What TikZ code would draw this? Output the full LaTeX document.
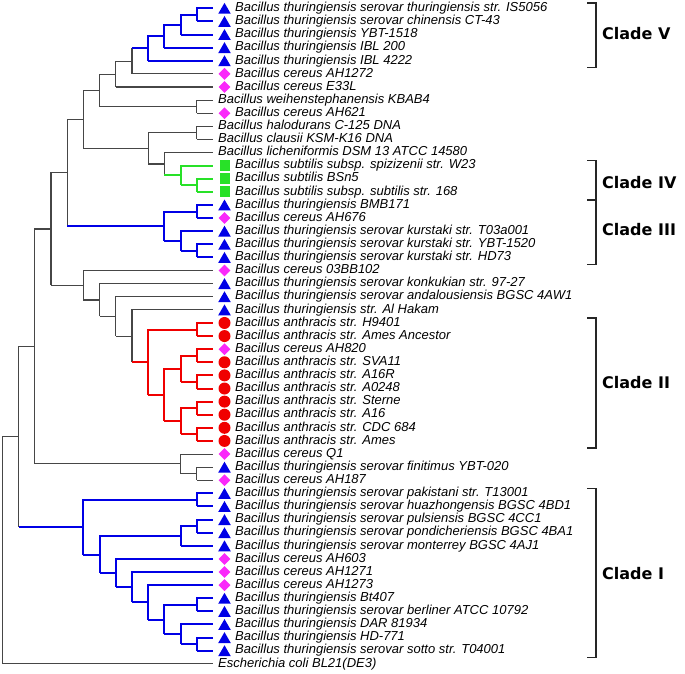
\documentclass[tikz,border=0pt]{standalone}
\usepackage{fontspec}
\newfontfamily\leaffont{Liberation Sans}
\newfontfamily\cladefont{DejaVu Sans}
\usetikzlibrary{positioning, calc, shapes.geometric}
\definecolor{treegray}{RGB}{70,70,70}
\definecolor{btblue}{RGB}{0,0,230}
\definecolor{bcpink}{RGB}{250,40,250}
\definecolor{bsgreen}{RGB}{40,225,40}
\definecolor{bared}{RGB}{240,0,0}

% one split: name, level, first child (its style also draws the spine),
% second child, style of first branch, style of second branch
\newcommand{\tbranch}[6]{%
  \path ($(#3)!.5!(#4)$) coordinate (#1-c);
  \coordinate (#1) at (#2,0 |- #1-c);
  \draw[#5] (#3) -| (#1) -- (#1 |- #4);
  \draw[#6] (#1 |- #4) -- (#4);}

\begin{document}
\begin{tikzpicture}[
   x=-16.2pt, y=-13.11pt, shift={(213pt,4.8pt)},
   brgray/.style={draw=treegray, line width=1.1pt},
   brblue/.style={draw=btblue, line width=2pt},
   brgreen/.style={draw=bsgreen, line width=2pt},
   brred/.style={draw=bared, line width=2pt},
   thur/.style={regular polygon, regular polygon sides=3, fill=btblue,
                inner sep=0pt, minimum size=14.5pt, yshift=-1.8pt},
   cer/.style={diamond, fill=bcpink, inner sep=0pt, minimum size=12pt},
   subt/.style={rectangle, fill=bsgreen, inner sep=0pt,
                minimum width=10pt, minimum height=11pt},
   anth/.style={circle, fill=bared, inner sep=0pt, minimum size=12pt},
   leaf/.style={font=\leaffont\itshape\fontsize{13}{14}\selectfont,
                inner sep=0pt, text height=9pt, text depth=2.5pt},
   clab/.style={font=\cladefont\bfseries\fontsize{16}{18}\selectfont, inner sep=0pt},
   brk/.style={draw=black!85, line width=1.3pt}]

  \useasboundingbox (13.148,0.366) rectangle (-29.136,51.777);

  % tips
  \foreach \i in {1,...,51} \coordinate (l\i) at (0,\i);

  % clade V and its neighbours
  \tbranch{a1}{1}{l1}{l2}{brblue}{brblue}
  \tbranch{a2}{2}{a1}{l3}{brblue}{brblue}
  \tbranch{a3}{3}{a2}{l4}{brblue}{brblue}
  \tbranch{a4}{4}{a3}{l5}{brblue}{brblue}
  \tbranch{a5}{5}{l6}{a4}{brgray}{brblue}
  \tbranch{a6}{6}{a5}{l7}{brgray}{brgray}
  \tbranch{a7}{1}{l8}{l9}{brgray}{brgray}
  \tbranch{a8}{7}{a6}{a7}{brgray}{brgray}
  \tbranch{b1}{1}{l10}{l11}{brgray}{brgray}
  % clade IV
  \tbranch{g1}{1}{l14}{l15}{brgreen}{brgreen}
  \tbranch{g2}{2}{l13}{g1}{brgreen}{brgreen}
  \tbranch{b2}{3}{l12}{g2}{brgray}{brgreen}
  \tbranch{b3}{4}{b1}{b2}{brgray}{brgray}
  \tbranch{a9}{8}{a8}{b3}{brgray}{brgray}
  % clade III
  \tbranch{c1}{1}{l16}{l17}{brblue}{brblue}
  \tbranch{c2}{1}{l19}{l20}{brblue}{brblue}
  \tbranch{c3}{2}{l18}{c2}{brblue}{brblue}
  \tbranch{c4}{3}{c1}{c3}{brblue}{brblue}
  \tbranch{z1}{9}{a9}{c4}{brgray}{brblue}
  % clade II
  \tbranch{r1}{1}{l25}{l26}{brred}{brred}
  \tbranch{r2}{1}{l27}{l28}{brred}{brred}
  \tbranch{r3}{1}{l29}{l30}{brred}{brred}
  \tbranch{r4}{2}{r2}{r3}{brred}{brred}
  \tbranch{r5}{1}{l31}{l32}{brred}{brred}
  \tbranch{r6}{1}{l33}{l34}{brred}{brred}
  \tbranch{r7}{2}{r5}{r6}{brred}{brred}
  \tbranch{r8}{3}{r4}{r7}{brred}{brred}
  \tbranch{r9}{4}{r1}{r8}{brred}{brred}
  \tbranch{s1}{5}{l24}{r9}{brgray}{brred}
  \tbranch{s2}{6}{l23}{s1}{brgray}{brgray}
  \tbranch{s3}{7}{l22}{s2}{brgray}{brgray}
  \tbranch{s4}{8}{l21}{s3}{brgray}{brgray}
  \tbranch{x1}{10}{z1}{s4}{brgray}{brgray}
  \tbranch{q1}{1}{l36}{l37}{brgray}{brgray}
  \tbranch{q2}{2}{l35}{q1}{brgray}{brgray}
  \tbranch{y1}{11}{x1}{q2}{brgray}{brgray}
  % clade I
  \tbranch{i1}{1}{l38}{l39}{brblue}{brblue}
  \tbranch{i2}{1}{l40}{l41}{brblue}{brblue}
  \tbranch{i3}{2}{i2}{l42}{brblue}{brblue}
  \tbranch{i4}{1}{l46}{l47}{brblue}{brblue}
  \tbranch{i5}{1}{l49}{l50}{brblue}{brblue}
  \tbranch{i6}{2}{l48}{i5}{brblue}{brblue}
  \tbranch{i7}{3}{i4}{i6}{brblue}{brblue}
  \tbranch{i8}{4}{l45}{i7}{brblue}{brblue}
  \tbranch{i9}{5}{l44}{i8}{brblue}{brblue}
  \tbranch{i10}{6}{l43}{i9}{brblue}{brblue}
  \tbranch{i11}{7}{i3}{i10}{brblue}{brblue}
  \tbranch{i12}{8}{i1}{i11}{brblue}{brblue}
  \tbranch{w1}{12}{y1}{i12}{brgray}{brblue}
  \tbranch{root}{13}{w1}{l51}{brgray}{brgray}

  % marked tips
  \foreach \i/\mk/\txt in {
     1/thur/{Bacillus thuringiensis serovar thuringiensis str. IS5056},
     2/thur/{Bacillus thuringiensis serovar chinensis CT-43},
     3/thur/{Bacillus thuringiensis YBT-1518},
     4/thur/{Bacillus thuringiensis IBL 200},
     5/thur/{Bacillus thuringiensis IBL 4222},
     6/cer/{Bacillus cereus AH1272},
     7/cer/{Bacillus cereus E33L},
     9/cer/{Bacillus cereus AH621},
     13/subt/{Bacillus subtilis subsp. spizizenii str. W23},
     14/subt/{Bacillus subtilis BSn5},
     15/subt/{Bacillus subtilis subsp. subtilis str. 168},
     16/thur/{Bacillus thuringiensis BMB171},
     17/cer/{Bacillus cereus AH676},
     18/thur/{Bacillus thuringiensis serovar kurstaki str. T03a001},
     19/thur/{Bacillus thuringiensis serovar kurstaki str. YBT-1520},
     20/thur/{Bacillus thuringiensis serovar kurstaki str. HD73},
     21/cer/{Bacillus cereus 03BB102},
     22/thur/{Bacillus thuringiensis serovar konkukian str. 97-27},
     23/thur/{Bacillus thuringiensis serovar andalousiensis BGSC 4AW1},
     24/thur/{Bacillus thuringiensis str. Al Hakam},
     25/anth/{Bacillus anthracis str. H9401},
     26/anth/{Bacillus anthracis str. Ames Ancestor},
     27/cer/{Bacillus cereus AH820},
     28/anth/{Bacillus anthracis str. SVA11},
     29/anth/{Bacillus anthracis str. A16R},
     30/anth/{Bacillus anthracis str. A0248},
     31/anth/{Bacillus anthracis str. Sterne},
     32/anth/{Bacillus anthracis str. A16},
     33/anth/{Bacillus anthracis str. CDC 684},
     34/anth/{Bacillus anthracis str. Ames},
     35/cer/{Bacillus cereus Q1},
     36/thur/{Bacillus thuringiensis serovar finitimus YBT-020},
     37/cer/{Bacillus cereus AH187},
     38/thur/{Bacillus thuringiensis serovar pakistani str. T13001},
     39/thur/{Bacillus thuringiensis serovar huazhongensis BGSC 4BD1},
     40/thur/{Bacillus thuringiensis serovar pulsiensis BGSC 4CC1},
     41/thur/{Bacillus thuringiensis serovar pondicheriensis BGSC 4BA1},
     42/thur/{Bacillus thuringiensis serovar monterrey BGSC 4AJ1},
     43/cer/{Bacillus cereus AH603},
     44/cer/{Bacillus cereus AH1271},
     45/cer/{Bacillus cereus AH1273},
     46/thur/{Bacillus thuringiensis Bt407},
     47/thur/{Bacillus thuringiensis serovar berliner ATCC 10792},
     48/thur/{Bacillus thuringiensis DAR 81934},
     49/thur/{Bacillus thuringiensis HD-771},
     50/thur/{Bacillus thuringiensis serovar sotto str. T04001}}
  {
    \node[\mk] (m\i) at ([xshift=11.5pt]l\i) {};
    \node[leaf, right=22pt of l\i] (t\i) {\txt};
  }

  % unmarked tips
  \foreach \i/\txt in {
     8/{Bacillus weihenstephanensis KBAB4},
     10/{Bacillus halodurans C-125 DNA},
     11/{Bacillus clausii KSM-K16 DNA},
     12/{Bacillus licheniformis DSM 13 ATCC 14580},
     51/{Escherichia coli BL21(DE3)}}
    \node[leaf, right=5pt of l\i] (t\i) {\txt};

  % clade brackets
  \coordinate (v-t) at ([xshift=374pt, yshift=5.3pt]l1);
  \coordinate (v-b) at ([xshift=383pt, yshift=-7pt]l5);
  \draw[brk] (v-t) -| (v-b) -- ++(-9pt,0);
  \coordinate (v-m) at ($(v-b |- v-t)!.5!(v-b)$);
  \node[clab, right=6pt of v-m, yshift=2pt] (cV) {Clade V};

  \coordinate (iv-t) at ([xshift=374pt, yshift=5.3pt]l13);
  \coordinate (iv-b) at ([xshift=383pt, yshift=-8pt]l15);
  \draw[brk] (iv-t) -| (iv-b) -- ++(-9pt,0);
  \coordinate (iv-m) at ($(iv-b |- iv-t)!.5!(iv-b)$);
  \node[clab, right=6pt of iv-m, yshift=-2pt] (cIV) {Clade IV};

  \coordinate (iii-b) at ([xshift=383pt, yshift=-7pt]l20);
  \draw[brk] (iv-b) -- (iii-b) -- ++(-9pt,0);
  \coordinate (iii-m) at ($(iv-b)!.5!(iii-b)$);
  \node[clab, right=6pt of iii-m, yshift=3pt] (cIII) {Clade III};

  \coordinate (ii-t) at ([xshift=374pt, yshift=5pt]l25);
  \coordinate (ii-b) at ([xshift=383pt, yshift=-7pt]l34);
  \draw[brk] (ii-t) -| (ii-b) -- ++(-9pt,0);
  \coordinate (ii-m) at ($(ii-b |- ii-t)!.5!(ii-b)$);
  \node[clab, right=6pt of ii-m] (cII) {Clade II};

  \coordinate (i-t) at ([xshift=374pt, yshift=5pt]l38);
  \coordinate (i-b) at ([xshift=383pt, yshift=-7pt]l50);
  \draw[brk] (i-t) -| (i-b) -- ++(-9pt,0);
  \coordinate (i-m) at ($(i-b |- i-t)!.5!(i-b)$);
  \node[clab, right=6pt of i-m] (cI) {Clade I};
\end{tikzpicture}
\end{document}
